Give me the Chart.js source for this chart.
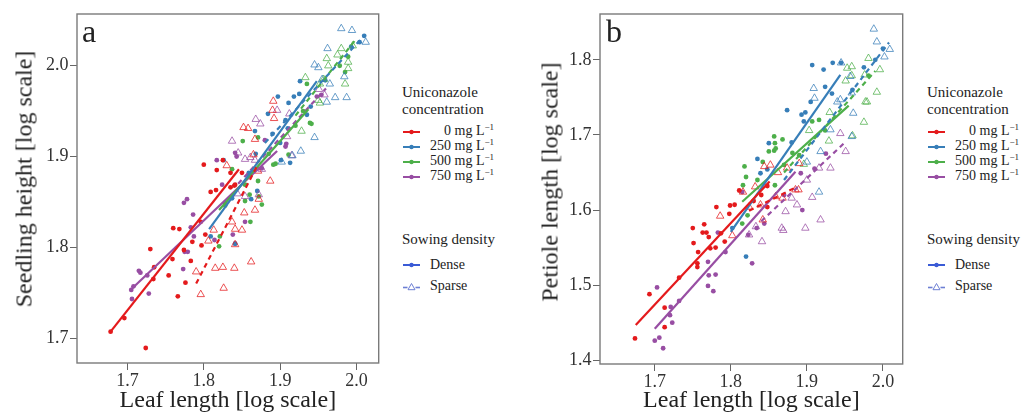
<!DOCTYPE html>
<html>
<head>
<meta charset="utf-8">
<script src="https://cdn.jsdelivr.net/npm/chart.js@4.4.1/dist/chart.umd.min.js"></script>
<style>
  body { margin: 0; background: #fff; }
  #wrap { position: relative; width: 1032px; height: 418px; overflow: hidden;
          font-family: "Liberation Serif", "Times New Roman", serif; color: #222; }
  .cbox { position: absolute; top: 0; height: 418px; }
  .letter { position: absolute; top: 15px; font-size: 32px; line-height: 32px; }
  .ytitle { position: absolute; font-size: 24px; white-space: nowrap;
            transform: translate(-50%, -50%) rotate(-90deg); }
  .lg { position: absolute; top: 0; white-space: nowrap; }
  .lg .h { position: absolute; left: -1px; font-size: 15px; line-height: 17px; }
  .lg .r { position: absolute; left: 0; font-size: 14px; line-height: 16px; }
  .lg svg { vertical-align: middle; }
  .lg .num { display: inline-block; width: 21px; text-align: right; margin-left: 10px; }
  .lg .txt { margin-left: 10px; }
  .lg sup { font-size: 9px; line-height: 0; vertical-align: 5px; }
</style>
</head>
<body>
<div id="wrap">
  <div class="cbox" style="left:0;width:384px"><canvas id="chartA" width="384" height="418"></canvas></div>
  <div class="cbox" style="left:520px;width:388px"><canvas id="chartB" width="388" height="418"></canvas></div>
  <div class="letter" style="left:82px">a</div>
  <div class="letter" style="left:606px">b</div>
  <div class="ytitle" style="left:23.5px;top:179px">Seedling height [log scale]</div>
  <div class="ytitle" style="left:549.5px;top:182px">Petiole length [log scale]</div>
  <div class="lg" id="legA" style="left:403px"></div>
  <div class="lg" id="legB" style="left:928px"></div>
</div>
<script>
// legend
const concLevels = ['0', '250', '500', '750'];
const concColors = ['#e41a1c', '#377eb8', '#4daf4a', '#984ea3'];
const sparseColors = ['rgba(228,26,28,0.75)', 'rgba(55,126,184,0.75)', 'rgba(77,175,74,0.75)', 'rgba(152,78,163,0.75)'];
const densityLabels = ['Dense', 'Sparse'];

// panel a: seedling height vs leaf length  [x, y]
const aRedDense = [[1.678,1.707],[1.696,1.722],[1.724,1.689],[1.730,1.798],[1.735,1.778],[1.734,1.765],[1.754,1.769],[1.760,1.821],[1.768,1.820],[1.759,1.787],[1.766,1.746],[1.774,1.797],[1.776,1.761],[1.785,1.806],[1.783,1.785],[1.797,1.802],[1.802,1.814],[1.809,1.861],[1.816,1.863],[1.840,1.868],[1.796,1.828],[1.800,1.891],[1.825,1.896],[1.817,1.885],[1.835,1.882],[1.850,1.882],[1.841,1.869],[1.835,1.866]];
const aRedSparse = [[1.790,1.773],[1.796,1.748],[1.815,1.777],[1.825,1.778],[1.840,1.777],[1.826,1.755],[1.862,1.784],[1.841,1.803],[1.850,1.819],[1.853,1.838],[1.841,1.820],[1.813,1.819],[1.806,1.807],[1.867,1.841],[1.872,1.853],[1.837,1.828],[1.887,1.873],[1.871,1.884],[1.830,1.890],[1.865,1.902],[1.867,1.919],[1.852,1.932],[1.858,1.931],[1.891,1.961],[1.892,1.942],[1.890,1.951]];
const aPurpleDense = [[1.705,1.753],[1.708,1.757],[1.706,1.743],[1.715,1.774],[1.717,1.772],[1.726,1.769],[1.728,1.749],[1.774,1.849],[1.778,1.853],[1.786,1.836],[1.783,1.822],[1.787,1.812],[1.775,1.795],[1.779,1.795],[1.773,1.776],[1.814,1.808],[1.838,1.814],[1.841,1.804],[1.854,1.828],[1.824,1.869],[1.817,1.896],[1.828,1.849],[1.841,1.904],[1.843,1.900],[1.876,1.887],[1.880,1.918],[1.907,1.911],[1.908,1.914],[1.948,1.966],[1.954,1.968]];
const aPurpleSparse = [[1.837,1.917],[1.845,1.904],[1.861,1.899],[1.868,1.941],[1.874,1.936],[1.867,1.896],[1.854,1.897],[1.876,1.886],[1.912,1.947],[1.909,1.922],[1.854,1.856],[1.872,1.858],[1.915,1.901],[1.896,1.951],[1.951,1.974],[1.844,1.859],[1.958,1.968]];
const aBlueDense = [[1.897,1.966],[1.884,1.947],[1.911,1.959],[1.918,1.966],[1.925,1.969],[1.926,1.983],[1.907,1.940],[1.935,1.946],[1.867,1.928],[1.900,1.915],[1.901,1.896],[1.913,1.893],[1.868,1.903],[1.859,1.882],[1.826,1.896],[2.004,2.026],[2.010,2.033],[1.993,2.021],[1.959,1.984],[1.910,1.931],[1.837,1.854],[1.862,1.853],[1.870,1.862],[1.841,1.804],[1.809,1.812],[1.890,1.925],[1.940,1.955]];
const aBlueSparse = [[1.980,2.041],[1.994,2.039],[2.012,2.026],[1.962,2.019],[1.945,2.001],[1.950,1.998],[1.965,1.980],[1.972,1.965],[1.987,1.965],[1.961,1.960],[1.945,1.921],[1.927,1.906],[1.916,1.901],[1.902,1.894],[1.984,1.988],[1.955,1.985]];
const aGreenDense = [[1.935,1.980],[1.941,1.936],[1.920,1.934],[1.871,1.921],[1.837,1.886],[1.851,1.917],[1.885,1.903],[1.894,1.892],[1.871,1.873],[1.989,2.010],[1.985,1.993],[1.854,1.869],[1.860,1.858],[1.872,1.856],[1.876,1.847],[1.861,1.828],[1.854,1.851],[1.820,1.801],[1.821,1.812],[1.828,1.846],[1.891,1.891],[1.911,1.902],[1.939,1.937],[1.930,1.950],[1.978,2.000]];
const aGreenSparse = [[1.980,2.019],[1.961,2.008],[1.963,2.000],[1.989,2.004],[1.933,1.987],[1.952,1.980],[1.985,1.980],[1.950,1.962],[1.989,1.997],[1.957,1.985],[1.928,1.928],[1.952,1.959],[1.975,2.012],[1.995,2.022]];
// fitted lines (end points)
const aRedFit = [[1.678,1.707],[1.846,1.886]];
const aRedSparseFit = [[1.790,1.760],[1.870,1.890]];
const aBlueFit = [[1.807,1.820],[1.948,1.983]];
const aBlueSparseFit = [[1.880,1.915],[2.011,2.034]];
const aGreenFit = [[1.820,1.841],[1.937,1.952]];
const aGreenSparseFit = [[1.920,1.945],[2.000,2.030]];
const aPurpleFit = [[1.704,1.753],[1.896,1.906]];
const aPurpleSparseFit = [[1.845,1.870],[1.960,1.975]];
const aXTicks = [1.7, 1.8, 1.9, 2.0];
const aYTicks = [1.7, 1.8, 1.9, 2.0];

// panel b: petiole length vs leaf length
const bRedDense = [[1.674,1.429],[1.693,1.488],[1.713,1.470],[1.713,1.444],[1.732,1.510],[1.750,1.576],[1.751,1.556],[1.757,1.544],[1.756,1.529],[1.756,1.524],[1.765,1.581],[1.763,1.570],[1.768,1.570],[1.771,1.564],[1.773,1.549],[1.780,1.550],[1.781,1.604],[1.798,1.595],[1.799,1.606],[1.805,1.607],[1.787,1.569],[1.792,1.558],[1.811,1.626],[1.848,1.632],[1.848,1.604],[1.830,1.612],[1.840,1.620]];
const bRedSparse = [[1.786,1.592],[1.802,1.566],[1.816,1.624],[1.832,1.631],[1.844,1.658],[1.852,1.660],[1.874,1.656],[1.889,1.627],[1.890,1.662],[1.859,1.618],[1.868,1.616],[1.842,1.587],[1.824,1.604],[1.885,1.627],[1.839,1.607],[1.862,1.650]];
const bPurpleDense = [[1.703,1.497],[1.700,1.426],[1.706,1.430],[1.711,1.416],[1.721,1.471],[1.720,1.460],[1.723,1.450],[1.732,1.479],[1.770,1.531],[1.771,1.513],[1.780,1.514],[1.770,1.499],[1.777,1.492],[1.783,1.570],[1.793,1.544],[1.815,1.624],[1.894,1.600],[1.844,1.582],[1.834,1.576],[1.823,1.567],[1.892,1.649],[1.870,1.620],[1.910,1.655],[1.925,1.675],[1.828,1.529]];
const bPurpleSparse = [[1.824,1.567],[1.880,1.616],[1.898,1.576],[1.907,1.617],[1.918,1.587],[1.916,1.656],[1.931,1.656],[1.944,1.702],[1.951,1.678],[1.887,1.607],[1.872,1.598],[1.867,1.576],[1.841,1.558],[1.833,1.578],[1.900,1.640],[1.869,1.573]];
const bBlueDense = [[1.907,1.793],[1.922,1.787],[1.934,1.796],[1.924,1.764],[1.874,1.733],[1.893,1.727],[1.905,1.744],[1.896,1.718],[1.850,1.689],[1.835,1.668],[1.848,1.654],[1.839,1.649],[1.820,1.538],[1.802,1.576],[1.898,1.730],[1.933,1.755],[1.945,1.796],[1.960,1.760],[1.975,1.790],[1.990,1.800],[2.000,1.815],[1.880,1.690]];
const bBlueSparse = [[1.988,1.841],[1.992,1.824],[2.009,1.814],[2.002,1.804],[1.945,1.796],[1.957,1.778],[1.959,1.756],[1.944,1.747],[1.909,1.762],[1.961,1.729],[1.959,1.698],[1.931,1.707],[1.918,1.678],[1.916,1.624],[1.900,1.664],[1.940,1.744],[1.910,1.749]];
const bGreenDense = [[1.857,1.698],[1.868,1.694],[1.850,1.678],[1.859,1.682],[1.842,1.664],[1.818,1.658],[1.820,1.644],[1.858,1.633],[1.881,1.676],[1.890,1.673],[1.907,1.718],[1.916,1.720],[1.822,1.593],[1.858,1.689],[1.857,1.679],[1.924,1.706],[1.981,1.779],[1.816,1.633],[1.815,1.582],[1.835,1.640],[1.870,1.660]];
const bGreenSparse = [[1.959,1.791],[1.951,1.772],[1.996,1.787],[1.992,1.757],[1.977,1.744],[1.975,1.717],[1.960,1.699],[1.903,1.706],[1.929,1.692],[1.896,1.661],[1.953,1.789],[1.959,1.779],[1.981,1.802],[1.976,1.780],[1.979,1.744],[1.930,1.730]];
const bRedFit = [[1.675,1.447],[1.851,1.638]];
const bRedSparseFit = [[1.824,1.599],[1.887,1.631]];
const bBlueFit = [[1.800,1.571],[1.944,1.780]];
const bBlueSparseFit = [[1.870,1.640],[2.008,1.823]];
const bGreenFit = [[1.815,1.611],[1.955,1.739]];
const bGreenSparseFit = [[1.870,1.650],[1.990,1.785]];
const bPurpleFit = [[1.700,1.442],[1.885,1.651]];
const bPurpleSparseFit = [[1.840,1.585],[1.950,1.690]];
const bXTicks = [1.7, 1.8, 1.9, 2.0];
const bYTicks = [1.4, 1.5, 1.6, 1.7, 1.8];

const serif = '"Liberation Serif", "Times New Roman", serif';

function xy(arr) { return arr.map(p => ({ x: p[0], y: p[1] })); }

// gray box round the plot area
const framePlugin = {
  id: 'frame',
  afterDraw(chart) {
    const { ctx, chartArea: a } = chart;
    ctx.save();
    ctx.strokeStyle = '#7a7a7a';
    ctx.lineWidth = 1.4;
    ctx.strokeRect(a.left, a.top, a.right - a.left, a.bottom - a.top);
    ctx.restore();
  }
};

function makePanel(id, p) {
  const ds = [];
  for (let i = 0; i < 4; i++) {
    ds.push({ data: xy(p.fits[i]), showLine: true, pointRadius: 0, borderColor: concColors[i], borderWidth: 2.2, order: 0 });
    ds.push({ data: xy(p.sparseFits[i]), showLine: true, pointRadius: 0, borderColor: concColors[i], borderWidth: 2.2, borderDash: [5, 4], order: 0 });
    ds.push({ data: xy(p.sparse[i]), pointStyle: 'triangle', pointRadius: 4.3, backgroundColor: 'rgba(0,0,0,0)', borderColor: sparseColors[i], borderWidth: 1, order: 1 });
    ds.push({ data: xy(p.dense[i]), pointStyle: 'circle', pointRadius: 2.4, backgroundColor: concColors[i], borderWidth: 0, order: 2 });
  }
  new Chart(document.getElementById(id), {
    type: 'scatter',
    data: { datasets: ds },
    options: {
      responsive: false,
      animation: false,
      layout: { padding: { top: 14, right: 4, left: 0, bottom: 0 } },
      plugins: { legend: { display: false }, tooltip: { enabled: false } },
      scales: {
        x: {
          min: p.xRange[0], max: p.xRange[1],
          afterBuildTicks: s => { s.ticks = p.xTicks.map(v => ({ value: v })); },
          afterFit: s => { s.height = p.bottomH; },
          grid: { drawOnChartArea: false, tickLength: 7, color: '#666' },
          border: { display: false },
          ticks: { font: { family: serif, size: 18 }, color: '#333', padding: 0, maxRotation: 0, callback: v => v.toFixed(1) },
          title: { display: true, text: 'Leaf length [log scale]', font: { family: serif, size: 24 }, color: '#222', padding: { top: 0, bottom: 3 } }
        },
        y: {
          min: p.yRange[0], max: p.yRange[1],
          afterBuildTicks: s => { s.ticks = p.yTicks.map(v => ({ value: v })); },
          afterFit: s => { s.width = p.leftW; },
          grid: { drawOnChartArea: false, tickLength: 7, color: '#666' },
          border: { display: false },
          ticks: { font: { family: serif, size: 18 }, color: '#333', padding: 1.5, callback: v => v.toFixed(1) }
        }
      }
    },
    plugins: [framePlugin]
  });
}

makePanel('chartA', {
  dense: [aRedDense, aBlueDense, aGreenDense, aPurpleDense],
  sparse: [aRedSparse, aBlueSparse, aGreenSparse, aPurpleSparse],
  fits: [aRedFit, aBlueFit, aGreenFit, aPurpleFit],
  sparseFits: [aRedSparseFit, aBlueSparseFit, aGreenSparseFit, aPurpleSparseFit],
  xRange: [1.634, 2.029], yRange: [1.6725, 2.057],
  xTicks: aXTicks, yTicks: aYTicks, leftW: 77, bottomH: 55
});
makePanel('chartB', {
  dense: [bRedDense, bBlueDense, bGreenDense, bPurpleDense],
  sparse: [bRedSparse, bBlueSparse, bGreenSparse, bPurpleSparse],
  fits: [bRedFit, bBlueFit, bGreenFit, bPurpleFit],
  sparseFits: [bRedSparseFit, bBlueSparseFit, bGreenSparseFit, bPurpleSparseFit],
  xRange: [1.628, 2.026], yRange: [1.395, 1.861],
  xTicks: bXTicks, yTicks: bYTicks, leftW: 80, bottomH: 54
});

// legends
function dotMark(c) {
  return '<svg width="17" height="8"><line x1="0" y1="4" x2="17" y2="4" stroke="' + c + '" stroke-width="2"/>' +
         '<circle cx="8.5" cy="4" r="2.2" fill="' + c + '"/></svg>';
}
function triMark(c) {
  return '<svg width="17" height="9"><line x1="0" y1="5.5" x2="4.5" y2="5.5" stroke="' + c + '" stroke-width="1.6"/>' +
         '<line x1="12.5" y1="5.5" x2="17" y2="5.5" stroke="' + c + '" stroke-width="1.6"/>' +
         '<path d="M8.5 1.5 L12 7.7 L5 7.7 Z" fill="none" stroke="' + c + '" stroke-width="1"/></svg>';
}
function buildLegend(id) {
  let h = '<div class="h" style="top:84px">Uniconazole</div>' +
          '<div class="h" style="top:100.5px">concentration</div>';
  concLevels.forEach((lv, i) => {
    h += '<div class="r" style="top:' + (123.3 + i * 15) + 'px">' + dotMark(concColors[i]) +
         '<span class="num">' + lv + '</span> mg L<sup>\u22121</sup></div>';
  });
  h += '<div class="h" style="top:231.4px">Sowing density</div>';
  h += '<div class="r" style="top:256.6px">' + dotMark('#3a5bd6') + '<span class="txt">' + densityLabels[0] + '</span></div>';
  h += '<div class="r" style="top:278px">' + triMark('#6d7fd4') + '<span class="txt">' + densityLabels[1] + '</span></div>';
  document.getElementById(id).innerHTML = h;
}
buildLegend('legA');
buildLegend('legB');
</script>
</body>
</html>
